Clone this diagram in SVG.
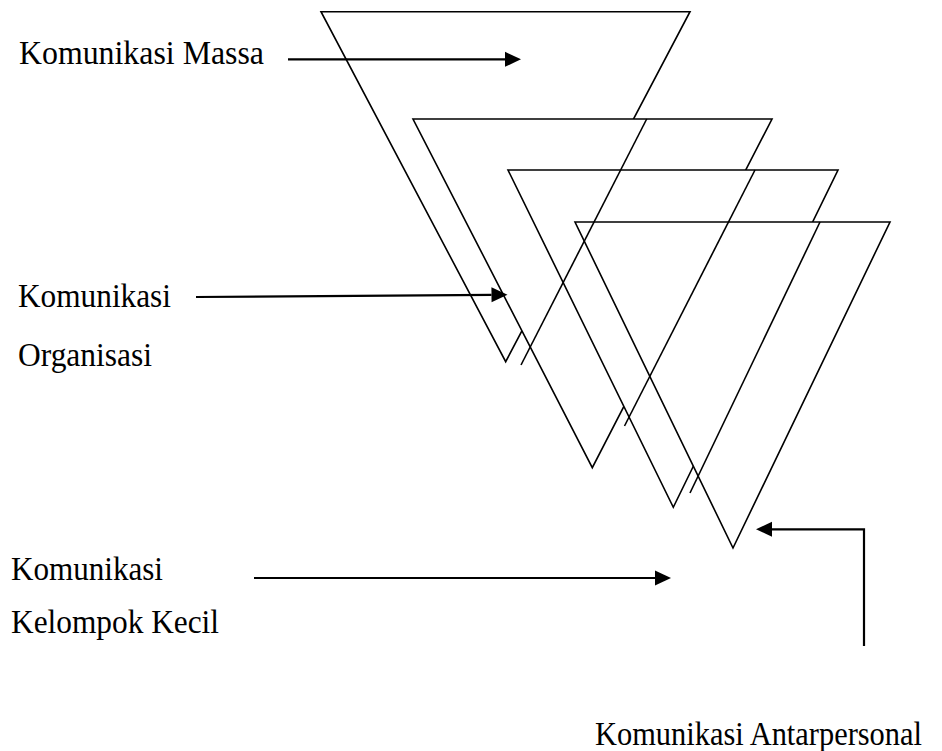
<svg xmlns="http://www.w3.org/2000/svg" width="942" height="751" viewBox="0 0 942 751">
  <style>
    .tri { fill: #ffffff; stroke: #000000; stroke-width: 1.6; stroke-linejoin: miter; }
    .edge { fill: none; stroke: #000000; stroke-width: 1.6; }
    .arrow { fill: none; stroke: #000000; stroke-width: 2.2; marker-end: url(#head); }
    .label { font-family: "Liberation Serif", "Times New Roman", serif; font-size: 31px; fill: #000000; }
  </style>
  <defs>
    <marker id="head" markerUnits="userSpaceOnUse" markerWidth="17" markerHeight="16" refX="0" refY="7.5" orient="auto" overflow="visible">
      <path d="M0,0 L16,7.5 L0,15 Z" fill="#000000"/>
    </marker>
  </defs>

  <!-- Inverted triangles, stacked back to front -->
  <g id="massa">
    <polygon class="tri" points="321,11.7 690,11.7 505.7,361.7"/>
  </g>
  <g id="organisasi">
    <polygon class="tri" points="413,119 772,119 592.3,467.7"/>
  </g>
  <g id="kelompok-kecil">
    <polygon class="tri" points="508,170 838,170 673.3,507.3"/>
  </g>
  <g id="antarpersonal">
    <polygon class="tri" points="575,222 890,222 733,548"/>
  </g>

  <!-- Right edges redrawn over the triangle in front -->
  <g id="edges">
    <line class="edge" x1="646.7" y1="119" x2="521" y2="365"/>
    <line class="edge" x1="755" y1="170" x2="624.5" y2="426"/>
    <line class="edge" x1="820" y1="222" x2="690" y2="493"/>
  </g>

  <!-- Pointer arrows -->
  <g id="connectors">
    <line class="arrow" x1="288" y1="59.3" x2="505" y2="59.3"/>
    <line class="arrow" x1="196" y1="297" x2="491.5" y2="294.8"/>
    <line class="arrow" x1="254" y1="578" x2="655" y2="578"/>
    <polyline class="arrow" points="864,646 864,529.3 772,529.3"/>
  </g>

  <!-- Labels (slightly tall serif lettering) -->
  <g id="labels">
    <text class="label" transform="translate(19,64) scale(1,1.06)" textLength="245" lengthAdjust="spacingAndGlyphs">Komunikasi Massa</text>
    <text class="label" transform="translate(18,307) scale(1,1.06)" textLength="153" lengthAdjust="spacingAndGlyphs">Komunikasi</text>
    <text class="label" transform="translate(18,366) scale(1,1.06)" textLength="134" lengthAdjust="spacingAndGlyphs">Organisasi</text>
    <text class="label" transform="translate(11,580) scale(1,1.06)" textLength="152" lengthAdjust="spacingAndGlyphs">Komunikasi</text>
    <text class="label" transform="translate(11,633) scale(1,1.06)" textLength="208" lengthAdjust="spacingAndGlyphs">Kelompok Kecil</text>
    <text class="label" transform="translate(595,745) scale(1,1.06)" textLength="327" lengthAdjust="spacingAndGlyphs">Komunikasi Antarpersonal</text>
  </g>
</svg>
